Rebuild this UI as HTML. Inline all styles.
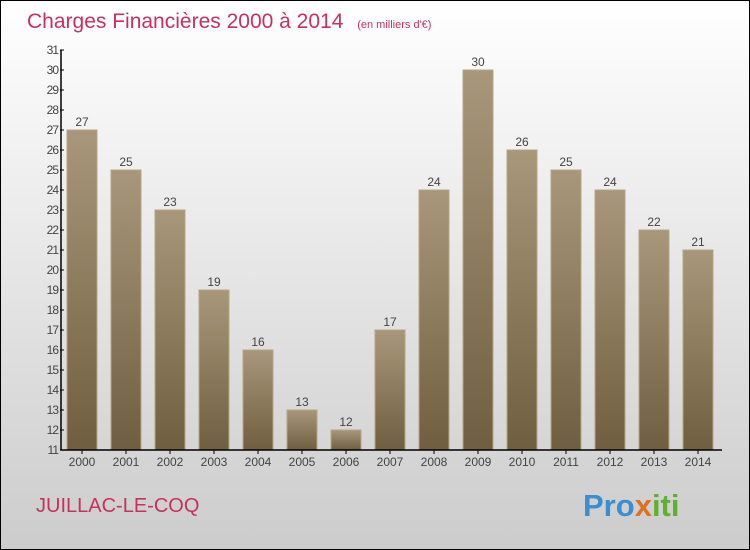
<!DOCTYPE html>
<html><head><meta charset="utf-8"><style>
body{margin:0;width:750px;height:550px;overflow:hidden}
svg{display:block;font-family:"Liberation Sans",sans-serif}
</style></head><body>
<svg id="c" width="750" height="550">
<defs>
<linearGradient id="bg" x1="0" y1="0" x2="0" y2="1"><stop offset="0" stop-color="#ffffff"/><stop offset="1" stop-color="#cccccc"/></linearGradient>
<linearGradient id="bar" x1="0" y1="0" x2="0" y2="1"><stop offset="0" stop-color="#a8977a"/><stop offset="1" stop-color="#6f5f40"/></linearGradient>
</defs>
<rect x="0.5" y="0.5" width="749" height="549" fill="url(#bg)" stroke="#000"/>
<text x="27" y="28" font-size="21" fill="#c8305f">Charges Financières 2000 à 2014 <tspan font-size="11" dx="8">(en milliers d'€)</tspan></text>
<text x="36" y="512" font-size="20" fill="#c8305f">JUILLAC-LE-COQ</text>
<text x="583" y="516" font-size="31" font-weight="bold" fill="#3a8fd0">Pro<tspan fill="#e07020">x</tspan><tspan fill="#60b030">iti</tspan></text>
<g id="plot"></g>
</svg>
<script>
const years=["2000","2001","2002","2003","2004","2005","2006","2007","2008","2009","2010","2011","2012","2013","2014"];
const values=[27,25,23,19,16,13,12,17,24,30,26,25,24,22,21];
const yTicks=[11,12,13,14,15,16,17,18,19,20,21,22,23,24,25,26,27,28,29,30,31];
const ns="http://www.w3.org/2000/svg",g=document.getElementById('plot');
const y0=450,y1=50,vmin=11,vmax=31,xL=61;
const y=v=>y0-(v-vmin)/(vmax-vmin)*(y0-y1);
const x=i=>82+i*44;
function mk(t,a,txt){const e=document.createElementNS(ns,t);for(const k in a)e.setAttribute(k,a[k]);if(txt!==undefined)e.textContent=txt;g.appendChild(e);return e;}
values.forEach((v,i)=>{
 const r=mk('rect',{x:x(i)-15,y:y(v),width:30,height:y0-y(v),fill:'url(#bar)',stroke:'#b5a585','stroke-width':1});
 
 
 const l=mk('text',{x:x(i),y:y(v)-4,'font-size':12,'text-anchor':'middle',fill:'#444'},v);
 
 
 const t=mk('text',{x:x(i),y:466,'font-size':12,'text-anchor':'middle',fill:'#444'},years[i]);
 
 
 mk('line',{x1:x(i),x2:x(i),y1:y0,y2:y0+4,stroke:'#000'});
});
yTicks.forEach(v=>{
 mk('line',{x1:xL-1,x2:xL+3,y1:y(v),y2:y(v),stroke:'#000'});
 const t=mk('text',{x:xL-3,y:y(v)+4,'font-size':12,'text-anchor':'end',fill:'#444','letter-spacing':'-1'},v);
 
 
});
const ax=mk('path',{d:`M${xL} ${y1}V${y0}H722`,stroke:'#000',fill:'none','stroke-width':1.5});


</script>
</body></html>
